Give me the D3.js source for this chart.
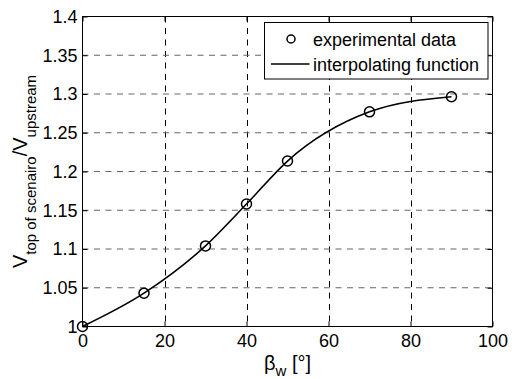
<!DOCTYPE html>
<html>
<head>
<meta charset="utf-8">
<script src="https://cdn.jsdelivr.net/npm/d3@7"></script>
<style>
  body { margin: 0; background: #fff; }
  svg { font-family: "Liberation Sans", Arial, sans-serif; }
  .tick line { stroke: #000; }
  .tick text { font-size: 18px; fill: #000; }
</style>
</head>
<body>
<div id="chart"></div>
<script>
// data
const angle = [0, 15, 30, 40, 50, 70, 90];
const ratio = [1.000, 1.043, 1.104, 1.158, 1.2135, 1.277, 1.2965];

const xTicks = [0, 20, 40, 60, 80, 100];
const yTicks = [1, 1.05, 1.1, 1.15, 1.2, 1.25, 1.3, 1.35, 1.4];
const yTickLabels = ["1", "1.05", "1.1", "1.15", "1.2", "1.25", "1.3", "1.35", "1.4"];

const width = 512, height = 379;
const margin = { top: 16.5, right: 19.5, bottom: 52.5, left: 82.5 };

const svg = d3.select("#chart")
  .append("svg")
  .attr("width", width)
  .attr("height", height);

const x = d3.scaleLinear()
  .domain([0, 100])
  .range([margin.left, width - margin.right]);

const y = d3.scaleLinear()
  .domain([1, 1.4])
  .range([height - margin.bottom, margin.top]);

const pts = angle.map((a, i) => ({ a, v: ratio[i] }));

// grid
svg.append("g")
  .selectAll("line")
  .data(xTicks.slice(1, -1))
  .enter()
  .append("line")
  .attr("x1", d => Math.round(x(d)) + 0.5)
  .attr("x2", d => Math.round(x(d)) + 0.5)
  .attr("y1", y(1.4))
  .attr("y2", y(1))
  .attr("stroke", "#000")
  .attr("stroke-dasharray", "6,5.5");

svg.append("g")
  .selectAll("line")
  .data(yTicks.slice(1, -1))
  .enter()
  .append("line")
  .attr("x1", x(0))
  .attr("x2", x(100))
  .attr("y1", d => y(d))
  .attr("y2", d => y(d))
  .attr("stroke", "#666")
  .attr("stroke-width", 1.2)
  .attr("stroke-dasharray", "6,5.5");

// axes (ticks inside, like matlab)
svg.append("g")
  .attr("transform", `translate(0,${y(1)})`)
  .call(d3.axisBottom(x).tickValues(xTicks).tickSize(-5).tickPadding(8))
  .call(g => g.select(".domain").remove());

svg.append("g")
  .attr("transform", `translate(${x(0)},0)`)
  .call(d3.axisLeft(y).tickValues(yTicks).tickSize(-5).tickPadding(5)
    .tickFormat((d, i) => yTickLabels[i]))
  .call(g => g.select(".domain").remove());

svg.append("g")
  .attr("transform", `translate(0,${y(1.4)})`)
  .call(d3.axisTop(x).tickValues(xTicks).tickSize(-5).tickFormat(""))
  .call(g => g.select(".domain").remove());

svg.append("g")
  .attr("transform", `translate(${x(100)},0)`)
  .call(d3.axisRight(y).tickValues(yTicks).tickSize(-5).tickFormat(""))
  .call(g => g.select(".domain").remove());

svg.append("rect")
  .attr("x", x(0))
  .attr("y", y(1.4))
  .attr("width", x(100) - x(0))
  .attr("height", y(1) - y(1.4))
  .attr("fill", "none")
  .attr("stroke", "#000");

// interpolating function
const line = d3.line()
  .x(d => x(d.a))
  .y(d => y(d.v))
  .curve(d3.curveMonotoneX);

svg.append("path")
  .datum(pts)
  .attr("d", line)
  .attr("fill", "none")
  .attr("stroke", "#000")
  .attr("stroke-width", 1.6);

// experimental data
svg.selectAll("circle.pt")
  .data(pts)
  .enter()
  .append("circle")
  .attr("class", "pt")
  .attr("cx", d => x(d.a))
  .attr("cy", d => y(d.v))
  .attr("r", 5)
  .attr("fill", "none")
  .attr("stroke", "#000")
  .attr("stroke-width", 1.5);

// x label
const xl = svg.append("text")
  .attr("x", (x(0) + x(100)) / 2)
  .attr("y", 370)
  .attr("text-anchor", "middle")
  .attr("font-size", 20);
xl.append("tspan").text("β");
xl.append("tspan").attr("font-size", 15).attr("dy", 6).text("w");
xl.append("tspan").attr("dy", -6).text(" [°]");

// y label
const yl = svg.append("text")
  .attr("transform", `translate(27,${(y(1) + y(1.4)) / 2}) rotate(-90)`)
  .attr("text-anchor", "middle")
  .attr("font-size", 20);
yl.append("tspan").text("V");
yl.append("tspan").attr("font-size", 15).attr("dy", 9).text("top of scenairo");
yl.append("tspan").attr("dy", -9).text("/V");
yl.append("tspan").attr("font-size", 15).attr("dy", 9).text("upstream");

// Legend
const legend = svg.append("g")
  .attr("class", "legend")
  .attr("transform", "translate(264.5,22.5)");

legend.append("rect")
  .attr("width", 223.5)
  .attr("height", 56.5)
  .attr("fill", "#fff")
  .attr("stroke", "#000");

legend.append("circle")
  .attr("cx", 26.5)
  .attr("cy", 16.5)
  .attr("r", 4)
  .attr("fill", "none")
  .attr("stroke", "#000")
  .attr("stroke-width", 1.5);

legend.append("line")
  .attr("x1", 6.5)
  .attr("x2", 45)
  .attr("y1", 41.5)
  .attr("y2", 41.5)
  .attr("stroke", "#000")
  .attr("stroke-width", 1.6);

legend.append("text")
  .attr("x", 48.5)
  .attr("y", 23)
  .attr("font-size", 18)
  .text("experimental data");

legend.append("text")
  .attr("x", 48.5)
  .attr("y", 48)
  .attr("font-size", 18)
  .text("interpolating function");
</script>
</body>
</html>
